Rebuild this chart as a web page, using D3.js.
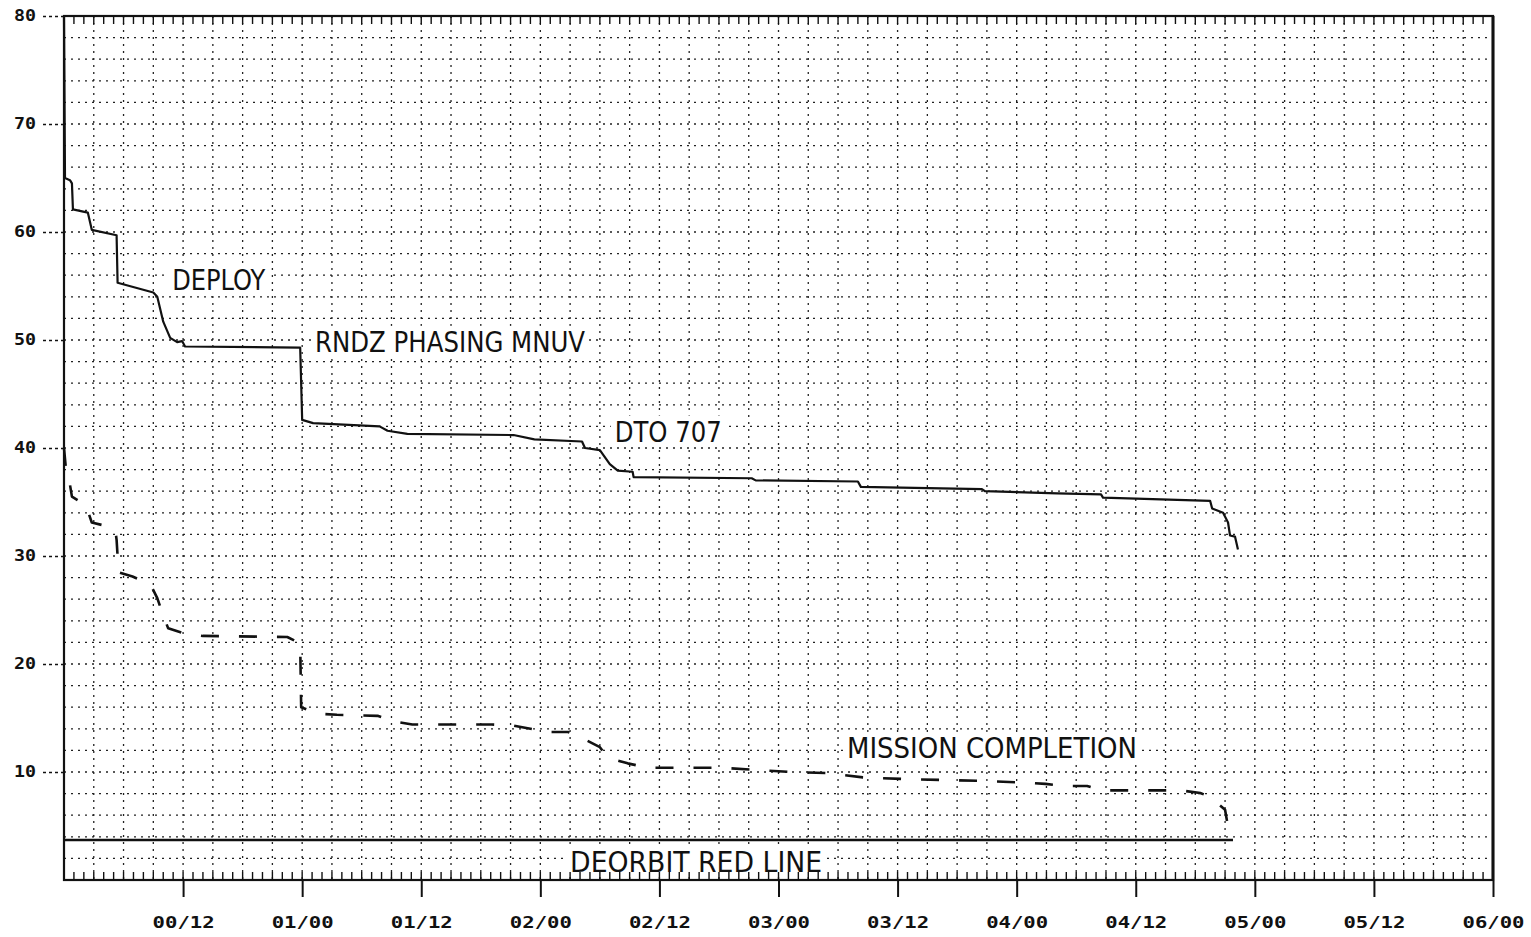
<!DOCTYPE html>
<html>
<head>
<meta charset="utf-8">
<script src="https://cdn.jsdelivr.net/npm/d3@7"></script>
<style>
  html, body { margin: 0; padding: 0; background: #fff; }
  svg { display: block; }
</style>
</head>
<body>
<svg id="chart" width="1531" height="937"></svg>
<script>
// Elapsed time in hours from 00/00, remaining margin in the units of the left axis
const solidHours  = [0, 0.1, 0.6, 0.8, 0.9, 2.4, 2.8, 5.3, 5.4, 9.0, 9.4, 10.0, 10.7, 11.4, 11.9, 12.2, 23.8, 24.0, 25.1, 31.8, 32.6, 34.6, 45.3, 47.4, 52.2, 52.5, 54.0, 55.0, 55.8, 57.3, 57.4, 69.3, 69.7, 80.0, 80.3, 92.5, 92.8, 100.1, 104.5, 104.7, 115.5, 115.7, 116.8, 117.3, 117.5, 118.0, 118.3];
const solidValues = [80, 65.0, 64.8, 64.5, 62.1, 61.8, 60.2, 59.7, 55.3, 54.4, 54.0, 51.7, 50.2, 49.8, 49.9, 49.4, 49.3, 42.6, 42.3, 42.0, 41.6, 41.3, 41.2, 40.8, 40.6, 40.0, 39.8, 38.5, 37.9, 37.8, 37.3, 37.2, 37.0, 36.9, 36.4, 36.2, 36.0, 35.8, 35.7, 35.4, 35.1, 34.4, 34.0, 33.1, 31.9, 31.8, 30.6];

const dashedHours  = [0, 0.2, 0.6, 0.8, 2.2, 2.8, 4.6, 5.2, 5.3, 5.5, 6.9, 8.7, 9.4, 10.0, 10.5, 12.2, 14.0, 22.5, 23.8, 23.9, 25.5, 27.5, 31.6, 33.2, 35.1, 43.1, 45.3, 47.0, 48.8, 50.8, 52.5, 54.0, 54.8, 56.8, 58.8, 66.1, 69.6, 73.2, 76.9, 78.7, 80.5, 84.6, 88.6, 92.6, 97.1, 98.9, 100.7, 103.1, 104.6, 112.5, 114.5, 115.5, 117.0, 117.3];
const dashedValues = [40.0, 38.0, 36.6, 35.5, 34.7, 33.1, 32.7, 32.2, 31.5, 28.5, 28.1, 27.4, 26.1, 24.5, 23.3, 22.8, 22.6, 22.5, 21.9, 16.0, 15.4, 15.3, 15.2, 14.7, 14.4, 14.4, 14.3, 14.0, 13.7, 13.7, 13.0, 12.3, 11.3, 10.8, 10.4, 10.4, 10.2, 10.0, 9.9, 9.7, 9.5, 9.35, 9.26, 9.17, 9.0, 8.9, 8.7, 8.7, 8.3, 8.3, 8.05, 7.7, 6.5, 4.9];

const redLineValue = 3.7;
const redLineEndHour = 117.8;

const xTickHours  = [12, 24, 36, 48, 60, 72, 84, 96, 108, 120, 132, 144];
const xTickLabels = ["00/12", "01/00", "01/12", "02/00", "02/12", "03/00", "03/12", "04/00", "04/12", "05/00", "05/12", "06/00"];
const yTickValues = [10, 20, 30, 40, 50, 60, 70, 80];
const yTickLabels = ["10", "20", "30", "40", "50", "60", "70", "80"];

const annotations = [
  { text: "DEPLOY", hour: 10.9, value: 54.6, width: 93 },
  { text: "RNDZ PHASING MNUV", hour: 25.3, value: 48.9, width: 270 },
  { text: "DTO 707", hour: 55.5, value: 40.6, width: 107 },
  { text: "MISSION COMPLETION", hour: 78.9, value: 11.3, width: 290 },
  { text: "DEORBIT RED LINE", hour: 51.0, value: 0.75, width: 252 }
];

const svg = d3.select("#chart");
const x = d3.scaleLinear().domain([0, 144]).range([64, 1493]);
const y = d3.scaleLinear().domain([0, 80]).range([880, 16]);

const ink = "#111";

// dotted grid: every 3 hours and every 2 units
const grid = svg.append("g").attr("stroke", "#222").attr("stroke-width", 1.3).attr("stroke-dasharray", "2 5");
grid.selectAll("line.v").data(d3.range(3, 144, 3)).join("line")
  .attr("x1", d => x(d)).attr("x2", d => x(d))
  .attr("y1", y(80)).attr("y2", y(0));
grid.selectAll("line.h").data(d3.range(2, 80, 2)).join("line")
  .attr("x1", x(0)).attr("x2", x(144))
  .attr("y1", d => y(d)).attr("y2", d => y(d));

// annotation backgrounds
const annoG = svg.append("g");
annotations.forEach(a => {
  const ax = x(a.hour), ay = y(a.value);
  annoG.append("rect")
    .attr("x", ax - 4).attr("y", ay - 26)
    .attr("width", a.width + 8).attr("height", 30)
    .attr("fill", "#fff");
});

// hourly minor ticks on top and bottom edges
const minor = svg.append("g").attr("stroke", ink).attr("stroke-width", 1.4);
minor.selectAll("line.b").data(d3.range(1, 144, 1)).join("line")
  .attr("x1", d => x(d)).attr("x2", d => x(d))
  .attr("y1", y(0)).attr("y2", y(0) - 8);
minor.selectAll("line.t").data(d3.range(1, 144, 1)).join("line")
  .attr("x1", d => x(d)).attr("x2", d => x(d))
  .attr("y1", y(80)).attr("y2", y(80) + 8);

// x axis major ticks and labels
const xAxis = d3.axisBottom(x)
  .tickValues(xTickHours)
  .tickFormat((d, i) => xTickLabels[i])
  .tickSize(17)
  .tickPadding(20);
const xg = svg.append("g").attr("transform", `translate(0,${y(0)})`).call(xAxis);
xg.select(".domain").remove();
xg.selectAll(".tick line").attr("stroke", ink).attr("stroke-width", 2);
xg.selectAll(".tick text")
  .attr("fill", ink)
  .attr("font-family", "'DejaVu Sans Mono', monospace")
  .attr("font-weight", "bold")
  .attr("font-size", 15)
  .attr("textLength", 62)
  .attr("lengthAdjust", "spacingAndGlyphs");

// y axis ticks and labels
const yAxis = d3.axisLeft(y)
  .tickValues(yTickValues)
  .tickFormat((d, i) => yTickLabels[i])
  .tickSize(22)
  .tickPadding(6);
const yg = svg.append("g").attr("transform", `translate(${x(0)},0)`).call(yAxis);
yg.select(".domain").remove();
yg.selectAll(".tick line").attr("stroke", ink).attr("stroke-width", 1.5).attr("stroke-dasharray", "3 3");
yg.selectAll(".tick text")
  .attr("fill", ink)
  .attr("font-family", "'DejaVu Sans Mono', monospace")
  .attr("font-weight", "bold")
  .attr("font-size", 15)
  .attr("textLength", 22)
  .attr("lengthAdjust", "spacingAndGlyphs");

// plot frame
svg.append("rect")
  .attr("x", x(0)).attr("y", y(80))
  .attr("width", x(144) - x(0)).attr("height", y(0) - y(80))
  .attr("fill", "none").attr("stroke", ink).attr("stroke-width", 2.2);
svg.append("line")
  .attr("x1", x(144)).attr("x2", x(144)).attr("y1", y(80)).attr("y2", y(0))
  .attr("stroke", ink).attr("stroke-width", 3);

// deorbit red line
svg.append("line")
  .attr("x1", x(0)).attr("x2", x(redLineEndHour))
  .attr("y1", y(redLineValue)).attr("y2", y(redLineValue))
  .attr("stroke", ink).attr("stroke-width", 2.6);

const line = d3.line().x(d => x(d[0])).y(d => y(d[1]));

// nominal curve
svg.append("path")
  .datum(d3.zip(solidHours, solidValues))
  .attr("d", line)
  .attr("fill", "none").attr("stroke", ink).attr("stroke-width", 2.2)
  .attr("stroke-linejoin", "round");

// dashed curve
svg.append("path")
  .datum(d3.zip(dashedHours, dashedValues))
  .attr("d", line)
  .attr("fill", "none").attr("stroke", ink).attr("stroke-width", 2.6)
  .attr("stroke-dasharray", "18 20")
  .attr("stroke-linejoin", "round");

// annotation text
annotations.forEach(a => {
  svg.append("text")
    .attr("x", x(a.hour)).attr("y", y(a.value))
    .attr("fill", ink)
    .attr("font-family", "'Liberation Sans Narrow', 'DejaVu Sans Condensed', 'Liberation Sans', sans-serif")
    .attr("font-size", 29)
    .attr("textLength", a.width)
    .attr("lengthAdjust", "spacingAndGlyphs")
    .text(a.text);
});
</script>
</body>
</html>
